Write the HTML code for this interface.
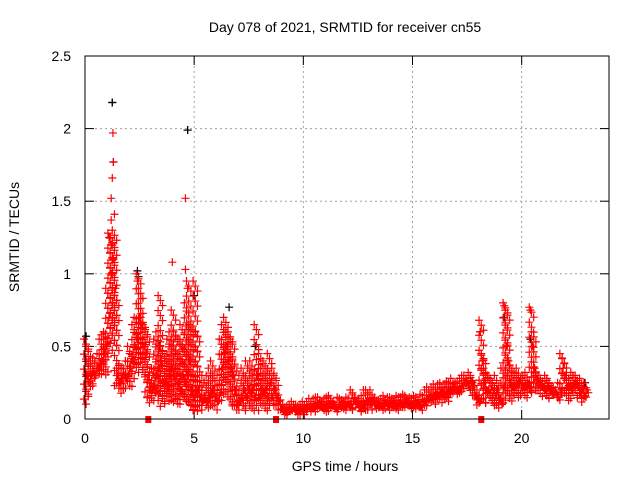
<!DOCTYPE html>
<html><head><meta charset="utf-8"><style>
body{margin:0;background:#fff}
svg{display:block;font-family:"Liberation Sans",sans-serif}
</style></head><body>
<svg id="chart" width="640" height="480">
<text x="345" y="32" text-anchor="middle" font-size="14">Day 078 of 2021, SRMTID for receiver cn55</text>
<text x="345" y="471" text-anchor="middle" font-size="14">GPS time / hours</text>
<text transform="translate(19,237) rotate(-90)" text-anchor="middle" font-size="14">SRMTID / TECUs</text>
<g id="grid"></g><g id="ticks"></g><g id="marks"></g>
<rect x="85" y="56" width="524" height="363" fill="none" stroke="#000" stroke-width="1"/>
</svg>
<script>
const xTicks=[0,5,10,15,20];
const yTicks=[0,0.5,1,1.5,2,2.5];
const yTickLabels=["0","0.5","1","1.5","2","2.5"];
const hours=[];for(let i=0;i<230;i++)hours.push(i/10);
const lo=[.1,.15,.2,.22,.25,.28,.3,.28,.3,.32,.45,.5,.6,.45,.22,.15,.18,.2,.2,.22,.2,.25,.35,.3,.4,.35,.3,.25,.15,.1,.1,.12,.15,.18,.1,.08,.1,.12,.15,.1,.1,.15,.1,.08,.12,.1,.08,.1,.05,.05,.05,.08,.06,.05,.07,.05,.08,.1,.08,.06,.06,.1,.15,.2,.25,.15,.1,.08,.06,.05,.05,.08,.06,.05,.08,.05,.06,.05,.1,.05,.08,.06,.1,.05,.08,.06,.1,.08,.06,.04,.03,.02,.03,.03,.04,.03,.02,.03,.04,.03,.03,.04,.05,.04,.05,.05,.06,.05,.04,.05,.05,.06,.05,.06,.05,.04,.05,.06,.05,.06,.05,.06,.06,.07,.06,.05,.06,.05,.06,.06,.05,.06,.05,.05,.06,.05,.05,.06,.05,.06,.05,.06,.06,.07,.06,.06,.07,.06,.06,.05,.06,.06,.05,.06,.07,.08,.08,.09,.1,.1,.1,.1,.12,.1,.12,.13,.12,.14,.15,.14,.15,.16,.18,.2,.2,.18,.22,.15,.12,.1,.08,.15,.12,.1,.1,.12,.1,.08,.06,.08,.06,.1,.15,.1,.12,.12,.15,.14,.18,.15,.16,.15,.15,.12,.2,.18,.2,.18,.17,.15,.15,.14,.12,.12,.14,.12,.1,.12,.2,.15,.12,.15,.14,.16,.18,.15,.12,.14,.1,.14];
const mid=[.3,.25,.3,.32,.3,.35,.38,.4,.45,.5,.7,1.0,1.1,.9,.3,.25,.28,.3,.28,.3,.35,.4,.5,.55,.7,.65,.5,.45,.3,.2,.2,.22,.3,.35,.4,.25,.25,.22,.3,.35,.3,.3,.25,.2,.3,.25,.3,.4,.2,.15,.2,.2,.15,.12,.15,.12,.15,.18,.2,.15,.12,.18,.35,.45,.5,.4,.35,.3,.2,.1,.12,.15,.2,.15,.2,.18,.2,.15,.3,.15,.2,.18,.2,.15,.25,.15,.2,.15,.12,.07,.06,.05,.05,.06,.06,.07,.06,.06,.06,.07,.07,.07,.08,.08,.08,.09,.1,.09,.08,.08,.09,.1,.1,.1,.08,.07,.09,.1,.09,.09,.1,.1,.12,.12,.1,.08,.1,.1,.12,.12,.11,.12,.1,.1,.09,.09,.1,.11,.09,.1,.1,.1,.09,.11,.1,.1,.12,.11,.1,.1,.1,.11,.1,.09,.12,.12,.14,.15,.15,.16,.17,.16,.18,.18,.17,.18,.19,.2,.22,.2,.2,.21,.23,.25,.25,.23,.26,.22,.16,.14,.12,.4,.25,.2,.2,.2,.18,.16,.2,.14,.1,.22,.5,.4,.25,.22,.22,.24,.25,.22,.22,.22,.24,.2,.5,.35,.27,.24,.23,.22,.2,.22,.2,.18,.17,.17,.15,.18,.35,.3,.22,.22,.2,.24,.24,.22,.18,.2,.16,.2];
const hi=[.55,.5,.4,.38,.42,.4,.45,.55,.58,.6,.9,1.28,1.25,1.3,.85,.35,.38,.35,.35,.4,.5,.45,.65,.7,1.0,.9,.7,.65,.6,.25,.3,.35,.55,.6,.85,.5,.45,.4,.55,.6,.75,.6,.45,.55,.65,.5,.8,.95,.65,.3,.95,.6,.3,.2,.3,.25,.3,.35,.4,.3,.2,.3,.55,.65,.7,.6,.6,.55,.4,.2,.2,.3,.35,.3,.4,.35,.4,.3,.65,.3,.45,.35,.4,.3,.45,.3,.35,.3,.2,.1,.1,.1,.08,.09,.1,.12,.1,.1,.09,.1,.12,.1,.12,.14,.12,.14,.15,.15,.13,.12,.14,.15,.16,.14,.12,.1,.15,.14,.13,.12,.15,.14,.2,.18,.15,.12,.14,.16,.2,.2,.18,.2,.14,.15,.12,.13,.14,.16,.13,.15,.15,.14,.13,.16,.15,.15,.17,.16,.14,.15,.14,.16,.15,.13,.17,.16,.2,.22,.2,.22,.24,.22,.24,.25,.22,.24,.26,.25,.28,.24,.25,.26,.28,.3,.3,.28,.32,.3,.2,.18,.2,.68,.45,.35,.32,.3,.28,.25,.3,.2,.18,.35,.8,.75,.4,.35,.3,.32,.35,.3,.28,.3,.32,.25,.77,.6,.35,.3,.3,.28,.26,.3,.28,.25,.2,.22,.2,.25,.45,.42,.3,.3,.28,.32,.3,.3,.25,.28,.22,.25];
const spikeX=[1.28,1.3,1.25,1.2,1.35,1.2,4.6,4.0,4.6,4.7,2.4,1.1,1.2,19.2,20.4,18.1];
const spikeY=[1.97,1.77,1.66,1.52,1.41,1.37,1.52,1.08,1.03,0.9,0.95,1.25,1.2,0.78,0.75,0.6];
const blackX=[1.25,4.7,2.4,6.6,18.1,20.4,7.8,5.0,1.3,0.05,22.9,19.2,2.45,3.4];
const blackY=[2.18,1.99,1.02,0.77,0.6,0.55,0.5,0.85,1.77,0.57,0.25,0.7,0.98,0.5];
const gapX=[2.9,8.75,18.15];
const X=h=>85+h*524/24, Y=v=>419-v*145.2;
const NS="http://www.w3.org/2000/svg";
function mk(t,a,p){const e=document.createElementNS(NS,t);for(const k in a)e.setAttribute(k,a[k]);p.appendChild(e);return e;}
const grid=document.getElementById('grid'),ticks=document.getElementById('ticks'),marks=document.getElementById('marks');
xTicks.forEach(t=>{const x=X(t);
 if(t>0){const g=mk('line',{x1:x,x2:x,y1:56,y2:419,stroke:'#a0a0a0','stroke-dasharray':'2,3'},grid);
 
 }
 mk('line',{x1:x,x2:x,y1:419,y2:410,stroke:'#000'},ticks);mk('line',{x1:x,x2:x,y1:56,y2:65,stroke:'#000'},ticks);
 const l=mk('text',{x:x,y:443,'text-anchor':'middle','font-size':'14'},ticks);l.textContent=t;
 
 });
yTicks.forEach((t,i)=>{const y=Y(t);
 if(t>0&&t<2.5){const g=mk('line',{x1:85,x2:609,y1:y,y2:y,stroke:'#a0a0a0','stroke-dasharray':'2,3'},grid);
 
 }
 mk('line',{x1:85,x2:94,y1:y,y2:y,stroke:'#000'},ticks);mk('line',{x1:609,x2:600,y1:y,y2:y,stroke:'#000'},ticks);
 const l=mk('text',{x:71,y:y+5,'text-anchor':'end','font-size':'14'},ticks);l.textContent=yTickLabels[i];
 
 });
function cross(h,v,c,name){const x=X(h),y=Y(v);
 const p=mk('path',{d:`M${x-4} ${y}h8M${x} ${y-4}v8`,stroke:c,'stroke-width':'1.2',fill:'none'},marks);
 
 }
function cluster(h,a,b,m){const y1=Y(b),y2=Y(a);const x=X(h);
 let d='';const step=5;
 for(let y=y1;y<=y2+0.1;y+=step){const xo=x+((Math.round((y-y1)/step)%3)-1)*2.2;d+=`M${xo-4} ${y}h8M${xo} ${y-4}v8`;}
 const ym=Y(m);d+=`M${x-3} ${ym}h8M${x+1} ${ym-4}v8`;
 const p=mk('path',{d:d,stroke:'#f00','stroke-width':'1.2',fill:'none'},marks);
 
 }
blackX.forEach((h,i)=>cross(h,blackY[i],'#000','black-point'));
hours.forEach((h,i)=>cluster(h+0.05,lo[i],hi[i],mid[i]));
spikeX.forEach((h,i)=>cross(h,spikeY[i],'#f00','red-spike-point'));
cross(blackX[0],blackY[0],'#000','black-point');cross(blackX[1],blackY[1],'#000','black-point');
gapX.forEach(h=>{const r=mk('rect',{x:X(h)-3,y:416,width:6,height:7,fill:'#f00'},marks);
 
 });
</script>
</body></html>
